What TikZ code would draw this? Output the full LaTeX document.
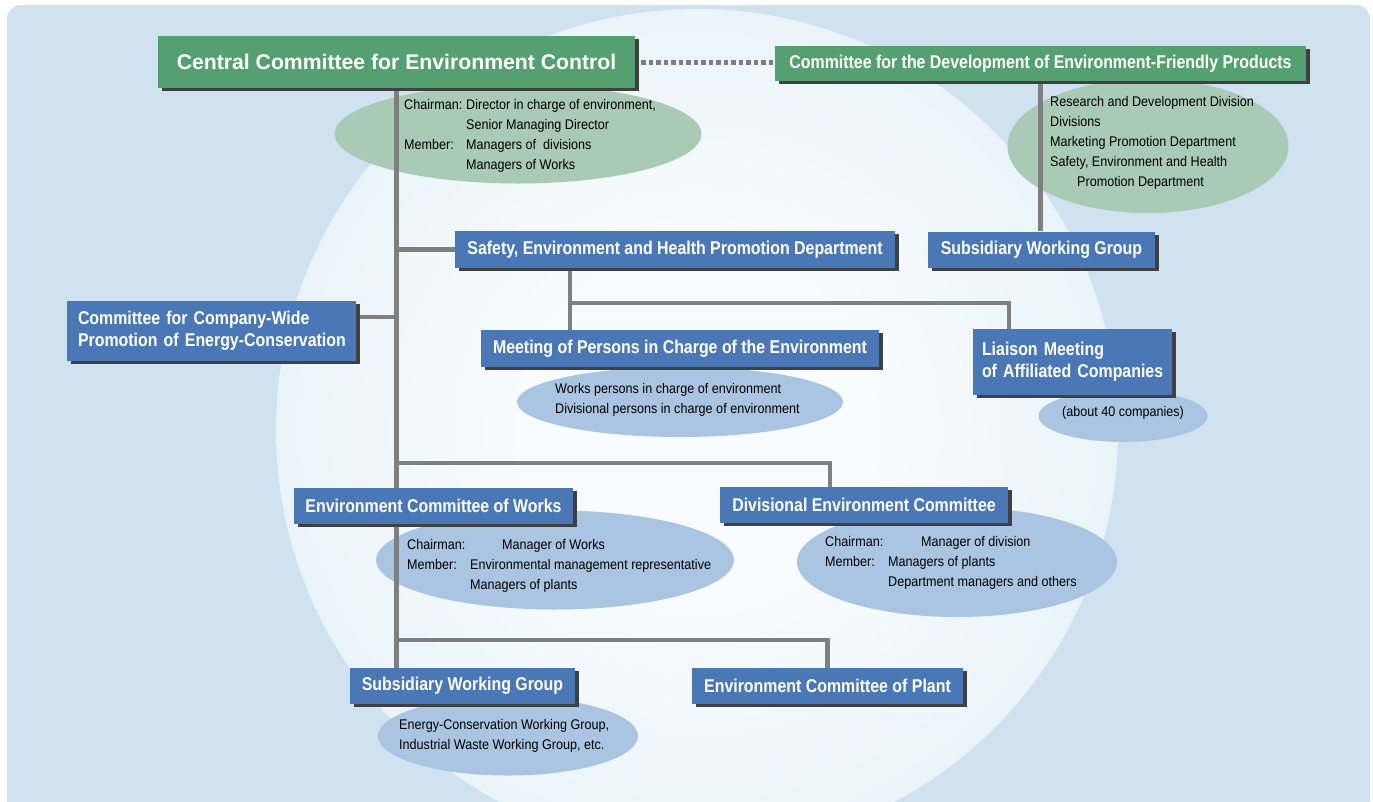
\documentclass[tikz,border=0pt]{standalone}
\usepackage{fontspec}
\setmainfont{Liberation Sans}
\newfontfamily\boxfont[FakeStretch=0.86]{Liberation Sans}
\newfontfamily\titlefont{Liberation Sans}
\newfontfamily\ellfont[FakeStretch=0.9]{Liberation Sans}
\usetikzlibrary{shapes.geometric,shadows,calc}
\definecolor{bgblue}{HTML}{D0E1EF}
\definecolor{glowA}{HTML}{F9FCFE}
\definecolor{glowM}{HTML}{E2F0F7}
\definecolor{glowB}{HTML}{BCDFEE}
\definecolor{boxgreen}{HTML}{55A070}
\definecolor{ellgreen}{HTML}{A9CAB5}
\definecolor{boxblue}{HTML}{4A78B7}
\definecolor{ellblue}{HTML}{A9C5E1}
\definecolor{shadowgray}{HTML}{404040}
\definecolor{linegray}{HTML}{7F7F7F}
\pgfdeclarelayer{bglayer}
\pgfdeclarelayer{elllayer}
\pgfdeclarelayer{linelayer}
\pgfsetlayers{bglayer,elllayer,linelayer,main}
\pgfdeclareradialshading{glow}{\pgfpoint{0bp}{0bp}}{color(0bp)=(glowA); color(10bp)=(glowA); color(32bp)=(glowM); color(50bp)=(glowB)}
\tikzset{
  boxbase/.style={inner sep=0pt, text=white, align=center,
    drop shadow={shadow xshift=4pt, shadow yshift=-3pt, fill=shadowgray, opacity=1},
    font=\boxfont\bfseries\fontsize{18.5}{22.5}\selectfont},
  gbox/.style={boxbase, fill=boxgreen},
  bbox/.style={boxbase, fill=boxblue},
  ellg/.style={ellipse, fill=ellgreen, inner sep=0pt},
  ellb/.style={ellipse, fill=ellblue, inner sep=0pt},
  elltext/.style={anchor=base west, inner sep=0pt, text=black, font=\ellfont\fontsize{14}{20}\selectfont},
  conn/.style={draw=linegray, line width=4.5pt},
  dotconn/.style={draw=linegray, line width=5pt, dash pattern=on 4.5pt off 3pt}
}
\begin{document}
\begin{tikzpicture}[x=1pt,y=-1pt]
\useasboundingbox (0,0) rectangle (1373,801);
\begin{pgfonlayer}{bglayer}
  \fill[white] (0,0) rectangle (1373,801);
  \fill[bgblue, rounded corners=14pt] (7,5) rectangle (1370,815);
  \begin{scope}
    \clip[rounded corners=14pt] (7,5) rectangle (1370,815);
    \shade[shading=glow] (697,430) circle[radius=421pt];
  \end{scope}
\end{pgfonlayer}

% boxes
\node[gbox, font=\titlefont\bfseries\fontsize{21.2}{24}\selectfont, minimum width=477, minimum height=52] (g1) at (396.5,62) {Central Committee for Environment Control};
\node[gbox, minimum width=531, minimum height=35] (g2) at (1040.5,63.5) {Committee for the Development of Environment-Friendly Products};
\node[bbox, minimum width=227, minimum height=36] (swg1) at (1041.5,249.5) {Subsidiary Working Group};
\node[bbox, minimum width=440, minimum height=37] (safety) at (675,249.5) {Safety, Environment and Health Promotion Department};
\node[bbox, inner xsep=11pt, text width=267pt, align=left, minimum height=60] (cwc) at (211.5,331) {\begin{tabular}{@{}l@{}}Committee for Company-Wide\\Promotion of Energy-Conservation\end{tabular}};
\node[bbox, minimum width=398, minimum height=37] (meet) at (680,348.5) {Meeting of Persons in Charge of the Environment};
\node[bbox, inner xsep=9pt, text width=181pt, align=left, minimum height=66] (liaison) at (1072.5,362) {\begin{tabular}{@{}l@{}}Liaison Meeting\\of Affiliated Companies\end{tabular}};
\node[bbox, minimum width=279, minimum height=36] (works) at (433.5,506) {Environment Committee of Works};
\node[bbox, minimum width=288, minimum height=36] (divis) at (864,505) {Divisional Environment Committee};
\node[bbox, minimum width=225, minimum height=36] (swg2) at (462.5,686) {Subsidiary Working Group};
\node[bbox, minimum width=271, minimum height=36] (plant) at (827.5,686) {Environment Committee of Plant};

% ellipses
\begin{pgfonlayer}{elllayer}
\node[ellg, minimum width=367, minimum height=99] (e1) at (518,134) {};
\node[ellg, minimum width=281, minimum height=134] (e2) at (1148,146) {};
\node[ellb, minimum width=326, minimum height=70] (e3) at (680,402) {};
\node[ellb, minimum width=169, minimum height=52] (e4) at (1123,416) {};
\node[ellb, minimum width=358, minimum height=99] (e5) at (555,560) {};
\node[ellb, minimum width=320, minimum height=110] (e6) at (957,562) {};
\node[ellb, minimum width=260, minimum height=79] (e7) at (508,736) {};

\node[elltext] (t1) at (404,109) {\begin{tabular}[t]{@{}p{62pt}@{}l@{}}Chairman: & Director in charge of environment,\\ & Senior Managing Director\\ Member: & Managers of\ \ divisions\\ & Managers of Works\end{tabular}};
\node[elltext] (t2) at (1050,106) {\begin{tabular}[t]{@{}l@{}}Research and Development Division\\ Divisions\\ Marketing Promotion Department\\ Safety, Environment and Health\\ \hspace*{27pt}Promotion Department\end{tabular}};
\node[elltext] (t3) at (555,393) {\begin{tabular}[t]{@{}l@{}}Works persons in charge of environment\\ Divisional persons in charge of environment\end{tabular}};
\node[inner sep=0pt, text=black, font=\ellfont\fontsize{14}{20}\selectfont] (t4) at (1123,413) {(about 40 companies)};
\node[elltext] (t5) at (407,549) {\begin{tabular}[t]{@{}p{63pt}@{}l@{}}Chairman: & \hspace*{32pt}Manager of Works\\ Member: & Environmental management representative\\ & Managers of plants\end{tabular}};
\node[elltext] (t6) at (825,546) {\begin{tabular}[t]{@{}p{63pt}@{}l@{}}Chairman: & \hspace*{33pt}Manager of division\\ Member: & Managers of plants\\ & Department managers and others\end{tabular}};
\node[elltext] (t7) at (399,729) {\begin{tabular}[t]{@{}l@{}}Energy-Conservation Working Group,\\ Industrial Waste Working Group, etc.\end{tabular}};
\end{pgfonlayer}

% connectors
\coordinate (cwcj) at ([yshift=14pt]cwc.east);
\coordinate (sj) at ([xshift=-105pt]safety.south);
\coordinate (lj) at ([xshift=-63.5pt]liaison.north);
\coordinate (dj) at ([xshift=-34pt]divis.north);
\coordinate (hy1) at (0,303);
\coordinate (hy2) at (0,463);
\coordinate (hy3) at (0,640);
\begin{pgfonlayer}{linelayer}
\draw[dotconn] ([xshift=6pt]g1.east) -- (g1.east -| g2.west);
\draw[conn] (g1.south) -- (g1.south |- swg2.north);
\draw[conn] (g1.south |- safety.west) -- (safety.west);
\draw[conn] (cwcj) -- (cwcj -| g1.south);
\draw[conn] (sj) -- (sj |- meet.north);
\draw[conn] (sj |- hy1) -| (lj);
\draw[conn] (g1.south |- hy2) -| (dj);
\draw[conn] (g1.south |- hy3) -| (plant.north);
\draw[conn] (g2.south) -- (g2.south |- swg1.north);
\end{pgfonlayer}
\end{tikzpicture}
\end{document}
